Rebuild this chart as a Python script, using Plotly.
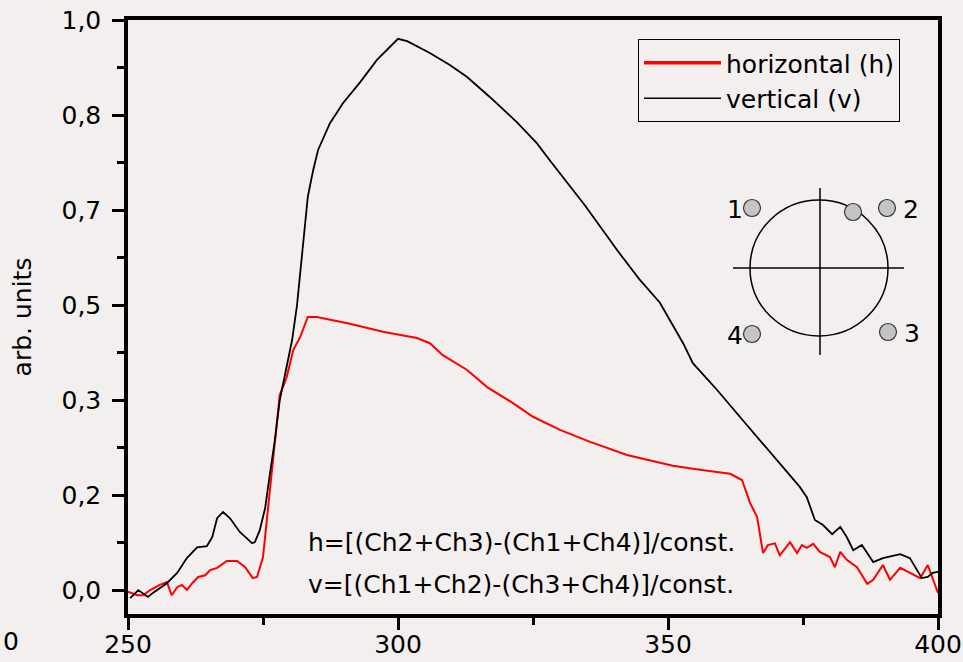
import plotly.graph_objects as go

# ---- data ----
v_x = [250.4, 251.9, 253.7, 254.6, 257.2, 259.1, 260.9, 262.8, 264.6, 265.6, 266.5, 267.6,
       268.9, 270.7, 273.0, 273.5, 274.4, 275.4, 276.3, 277.2, 278.1, 279.4, 280.4, 281.3,
       282.4, 283.3, 284.3, 285.2, 287.4, 289.8, 293.0, 296.1, 300.0, 301.7, 305.9, 309.6,
       312.8, 317.0, 322.0, 325.7, 328.1, 334.6, 340.6, 344.8, 348.5, 352.8, 354.6, 359.1,
       363.3, 368.9, 374.4, 375.7, 377.2, 378.7, 380.4, 381.9, 383.1, 384.3, 385.9, 388.0,
       389.8, 393.0, 394.8, 397.0, 398.1, 399.0, 400.0]
v_y = [-0.014, 0.000, -0.012, -0.005, 0.012, 0.030, 0.056, 0.075, 0.077, 0.093, 0.126, 0.137,
       0.126, 0.102, 0.082, 0.084, 0.105, 0.144, 0.205, 0.263, 0.333, 0.391, 0.439, 0.500,
       0.609, 0.690, 0.737, 0.772, 0.819, 0.854, 0.891, 0.930, 0.967, 0.963, 0.942, 0.921,
       0.900, 0.865, 0.821, 0.784, 0.754, 0.675, 0.596, 0.544, 0.504, 0.433, 0.398, 0.351,
       0.304, 0.242, 0.181, 0.163, 0.123, 0.114, 0.098, 0.111, 0.093, 0.070, 0.079, 0.049,
       0.056, 0.063, 0.056, 0.021, 0.023, 0.030, 0.032]

h_x = [250.0, 251.7, 252.8, 254.1, 255.9, 257.2, 258.1, 259.1, 260.0, 260.9, 261.9, 263.0,
       264.3, 265.2, 266.5, 268.3, 270.2, 271.7, 273.1, 273.9, 275.0, 275.9, 276.9, 278.1,
       279.4, 280.6, 281.9, 283.3, 285.0, 291.1, 297.2, 303.5, 305.9, 308.3, 312.8, 316.5,
       321.3, 325.0, 330.0, 335.6, 342.4, 350.9, 355.9, 361.5, 363.7, 365.2, 366.5, 367.6,
       368.5, 369.8, 370.7, 372.6, 373.9, 374.8, 375.7, 376.9, 378.1, 380.0, 380.9, 381.9,
       383.1, 385.0, 386.9, 388.0, 389.8, 391.1, 393.0, 394.8, 396.7, 398.1, 398.9, 400.0]
h_y = [-0.003, -0.009, -0.009, 0.000, 0.009, 0.014, -0.009, 0.005, 0.009, 0.000, 0.012, 0.023,
       0.026, 0.035, 0.039, 0.051, 0.051, 0.040, 0.021, 0.023, 0.058, 0.140, 0.240, 0.342,
       0.374, 0.421, 0.444, 0.479, 0.479, 0.467, 0.453, 0.442, 0.433, 0.412, 0.386, 0.356,
       0.328, 0.304, 0.281, 0.260, 0.237, 0.218, 0.211, 0.204, 0.193, 0.153, 0.128, 0.065,
       0.079, 0.082, 0.061, 0.084, 0.065, 0.079, 0.074, 0.081, 0.067, 0.058, 0.040, 0.067,
       0.053, 0.040, 0.011, 0.018, 0.044, 0.018, 0.039, 0.030, 0.021, 0.044, 0.023, -0.005]

y_tickvals = [0/6, 1/6, 2/6, 3/6, 4/6, 5/6, 6/6]
y_ticktext = ["0,0", "0,2", "0,3", "0,5", "0,7", "0,8", "1,0"]
y_minor = [1/12, 3/12, 5/12, 7/12, 9/12, 11/12]
x_tickvals = [250, 300, 350, 400]
x_ticktext = ["250", "300", "350", "400"]

FONT = "DejaVu Sans"
BG = "#f2efee"

# ---- figure geometry (pixels) ----
W, H = 963, 662
L, R, T, B = 128, 938, 20, 614


def px(xp):
    return (xp - L) / (R - L)


def py(yp):
    return (B - yp) / (B - T)


fig = go.Figure()
fig.add_trace(go.Scatter(x=h_x, y=h_y, mode="lines", name="horizontal (h)",
                         showlegend=False, legendgroup="h",
                         line=dict(color="#ff0000", width=2)))
fig.add_trace(go.Scatter(x=v_x, y=v_y, mode="lines", name="vertical (v)",
                         showlegend=False, legendgroup="v",
                         line=dict(color="#000000", width=1.8)))
# legend entries (thicker red sample as in the reference legend)
fig.add_trace(go.Scatter(x=[None], y=[None], mode="lines", name="horizontal (h)",
                         legendgroup="h", line=dict(color="#ff0000", width=3.5)))
fig.add_trace(go.Scatter(x=[None], y=[None], mode="lines", name="vertical (v)",
                         legendgroup="v", line=dict(color="#000000", width=1.6)))

shapes = []
# inset detector diagram
cx, cy, rr = 819, 268, 69
shapes.append(dict(type="circle", xref="paper", yref="paper",
                   x0=px(cx - rr), x1=px(cx + rr), y0=py(cy + rr - 1), y1=py(cy - rr + 1),
                   line=dict(color="black", width=1.5)))
shapes.append(dict(type="line", xref="paper", yref="paper",
                   x0=px(733), x1=px(904), y0=py(268), y1=py(268),
                   line=dict(color="black", width=1.5)))
shapes.append(dict(type="line", xref="paper", yref="paper",
                   x0=px(820), x1=px(820), y0=py(188), y1=py(355),
                   line=dict(color="black", width=1.5)))
sr = 8.5
for (sx, sy) in [(752, 208), (853, 212), (887, 208), (888, 332), (752, 334)]:
    shapes.append(dict(type="circle", xref="paper", yref="paper",
                       x0=px(sx - sr), x1=px(sx + sr), y0=py(sy + sr), y1=py(sy - sr),
                       fillcolor="#c4c4c4", line=dict(color="#333333", width=1.2)))

annotations = []
for (lab, lx, ly) in [("1", 735, 209), ("2", 911, 209), ("3", 912, 333), ("4", 735, 335)]:
    annotations.append(dict(text=lab, x=px(lx), y=py(ly), xref="paper", yref="paper",
                            showarrow=False, xanchor="center", yanchor="middle",
                            font=dict(family=FONT, size=25, color="black")))

annotations.append(dict(text="h=[(Ch2+Ch3)-(Ch1+Ch4)]/const.", x=px(521), y=py(542),
                        xref="paper", yref="paper", showarrow=False,
                        xanchor="center", yanchor="middle",
                        font=dict(family=FONT, size=25, color="black")))
annotations.append(dict(text="v=[(Ch1+Ch2)-(Ch3+Ch4)]/const.", x=px(521), y=py(584),
                        xref="paper", yref="paper", showarrow=False,
                        xanchor="center", yanchor="middle",
                        font=dict(family=FONT, size=25, color="black")))
# stray label at bottom-left corner of the original image
annotations.append(dict(text="0", x=px(1), y=py(641), xref="paper", yref="paper",
                        showarrow=False, xanchor="left", yanchor="middle",
                        font=dict(family=FONT, size=25, color="black")))

fig.update_layout(
    width=W, height=H,
    margin=dict(l=L, r=W - R, t=T, b=H - B, pad=0, autoexpand=False),
    paper_bgcolor=BG, plot_bgcolor=BG,
    font=dict(family=FONT, size=25, color="black"),
    showlegend=True,
    legend=dict(x=px(638), y=py(39), xanchor="left", yanchor="top",
                bgcolor=BG, bordercolor="black", borderwidth=1,
                itemwidth=77, font=dict(family=FONT, size=25, color="black"),
                tracegroupgap=0),
    shapes=shapes,
    annotations=annotations,
)

fig.update_xaxes(range=[250, 400], tickvals=x_tickvals, ticktext=x_ticktext,
                 automargin=False,
                 showgrid=False, zeroline=False,
                 showline=True, mirror=True, linecolor="black", linewidth=3.5,
                 ticks="outside", ticklen=12, tickwidth=3, tickcolor="black",
                 ticklabelstandoff=-7,
                 minor=dict(tickvals=[275, 325, 375], ticks="outside", ticklen=7,
                            tickwidth=3, tickcolor="black", showgrid=False),
                 tickfont=dict(family=FONT, size=25, color="black"))
fig.update_yaxes(range=[-0.042, 1.0], tickvals=y_tickvals, ticktext=y_ticktext,
                 automargin=False,
                 showgrid=False, zeroline=False,
                 showline=True, mirror=True, linecolor="black", linewidth=3.5,
                 ticks="outside", ticklen=12, tickwidth=3, tickcolor="black",
                 ticklabelstandoff=6,
                 minor=dict(tickvals=y_minor, ticks="outside", ticklen=7,
                            tickwidth=3, tickcolor="black", showgrid=False),
                 tickfont=dict(family=FONT, size=25, color="black"),
                 title=dict(text="arb. units", standoff=24,
                            font=dict(family=FONT, size=25, color="black")))

fig.write_html(
    "out.html",
    config=dict(displayModeBar=False),
    post_script="document.body.style.margin='0';document.body.style.overflow='hidden';"
                "document.body.style.background='" + BG + "';",
)
